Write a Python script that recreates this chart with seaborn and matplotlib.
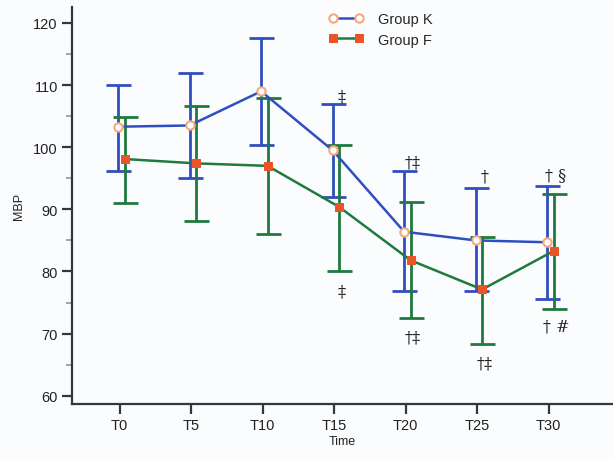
import numpy as np
import pandas as pd
import matplotlib
matplotlib.use("Agg")
import matplotlib.pyplot as plt
from matplotlib.ticker import MultipleLocator
import seaborn as sns

times = ["T0", "T5", "T10", "T15", "T20", "T25", "T30"]

# Group K (blue line, open circles)
k_mean = [103.3, 103.5, 109.0, 99.5, 86.4, 85.0, 84.7]
k_upper = [110.0, 111.9, 117.6, 106.9, 96.1, 93.4, 93.7]
k_lower = [96.2, 95.1, 100.4, 92.0, 76.8, 76.8, 75.6]

# Group F (green line, filled squares)
f_mean = [98.1, 97.4, 97.0, 90.4, 81.8, 77.1, 83.3]
f_upper = [104.9, 106.7, 107.9, 100.3, 91.2, 85.5, 92.4]
f_lower = [91.0, 88.2, 86.1, 80.1, 72.5, 68.4, 73.9]

# significance marks: (time index, value, text)
marks_above = [(3, 108.3, "‡"), (4, 97.6, "†‡"), (5, 95.4, "†"), (6, 95.6, "† §")]
marks_below = [(3, 76.9, "‡"), (4, 69.5, "†‡"), (5, 65.2, "†‡"), (6, 71.3, "† #")]

blue = "#2f4fc0"
green = "#1f7a3d"
orange = "#ea5528"
peach = "#f6a87c"
spine_col = "#2e3b3b"

sns.set_theme(style="ticks")
plt.rcParams["font.family"] = ["Liberation Sans", "DejaVu Sans"]

x = np.arange(len(times))
df = pd.DataFrame({
    "x": np.concatenate([x - 0.02, x + 0.07]),
    "MBP": k_mean + f_mean,
    "Group": ["Group K"] * len(times) + ["Group F"] * len(times),
})

fig, ax = plt.subplots(figsize=(6.13, 4.60), dpi=100)
fig.patch.set_facecolor("#fbfcfe")
ax.set_facecolor("#fbfcfe")

for offs, mean, lo, hi, col in [(-0.02, k_mean, k_lower, k_upper, blue),
                                (0.07, f_mean, f_lower, f_upper, green)]:
    m = np.array(mean)
    ax.errorbar(x + offs, m, yerr=[m - np.array(lo), np.array(hi) - m],
                fmt="none", ecolor=col, elinewidth=2, capsize=9, capthick=2, zorder=2)

sns.lineplot(data=df, x="x", y="MBP", hue="Group", style="Group",
             palette={"Group K": blue, "Group F": green},
             markers={"Group K": "o", "Group F": "s"}, dashes=False,
             linewidth=1.8, markersize=6, ax=ax, zorder=3)


def style_marker(line):
    if line.get_marker() == "o":
        line.set_markerfacecolor("white")
        line.set_markeredgecolor(peach)
        line.set_markeredgewidth(1.5)
    elif line.get_marker() == "s":
        line.set_markerfacecolor(orange)
        line.set_markeredgecolor(orange)


for line in ax.lines:
    style_marker(line)

for xi, yv, t in marks_above + marks_below:
    ax.text(x[xi] + 0.1, yv, t, ha="center", va="center", fontsize=11.5,
            family="DejaVu Serif", color="#222222")

ax.set_xlim(-0.66, 6.9)
ax.set_ylim(58.7, 122.6)
ax.set_xticks(x)
ax.set_xticklabels(times)
ax.yaxis.set_major_locator(MultipleLocator(10))
ax.yaxis.set_minor_locator(MultipleLocator(5))
ax.tick_params(axis="both", which="major", length=7, width=1.6, color=spine_col,
               labelsize=10.5, labelcolor="#222222")
ax.tick_params(axis="y", which="minor", length=4, width=1.2, color="#8a9a9a")
ax.set_xlabel("Time", fontsize=9, color="#222222", labelpad=2)
ax.set_ylabel("MBP", fontsize=9, color="#222222", labelpad=6)
for s in ["left", "bottom"]:
    ax.spines[s].set_color(spine_col)
    ax.spines[s].set_linewidth(1.6)
sns.despine(ax=ax)

leg = ax.legend(loc="upper left", bbox_to_anchor=(0.45, 1.02), frameon=False,
                fontsize=10.5, handlelength=2.4, handletextpad=1.0,
                labelspacing=0.45, numpoints=2)
for h in leg.legend_handles:
    style_marker(h)

fig.subplots_adjust(left=0.118, right=1.0, top=0.983, bottom=0.12)
fig.savefig("out.png", dpi=100, facecolor=fig.get_facecolor())
